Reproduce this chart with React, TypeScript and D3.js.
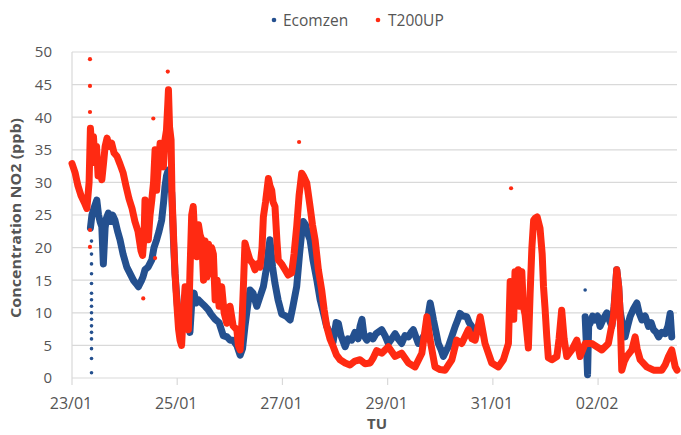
import React from "react";
import * as d3 from "d3";

// Hours since 23/01 00:00 and NO2 values (ppb)
const t200upHours = [0,1.4,2.7,4.1,5.5,6.8,7.8,8.4,9.1,9.8,10.5,11.2,11.9,12.8,13.6,14.4,15.1,16.0,16.9,18.1,19.2,20.5,21.9,23.3,24.6,26.0,27.4,28.7,30.1,31.5,32.2,32.9,33.3,34.0,34.8,35.6,36.4,37.2,37.9,38.6,39.5,40.2,40.9,41.7,42.4,43.1,43.7,44.0,44.5,45.2,45.6,46.3,47.0,47.9,48.6,49.3,50.0,50.6,51.6,52.2,53.1,53.8,54.6,55.3,56.1,56.9,57.7,58.4,59.2,60.0,60.7,61.5,62.3,63.0,63.7,64.5,65.3,66.2,67.1,68.3,69.4,70.6,72.1,73.5,75.2,75.9,76.7,77.6,78.3,78.9,79.9,81.2,82.4,83.5,84.6,85.8,86.7,87.3,88.3,89.6,90.3,91.1,91.7,92.6,93.5,94.1,95.6,97.2,98.6,100.2,101.3,102.5,103.6,104.8,105.6,107.1,108.6,109.7,110.9,112.4,113.9,115.0,116.2,117.7,119.2,120.7,122.3,124.6,126.8,129.1,131.4,133.7,136.0,137.3,139.0,141.3,144.3,147.4,150.4,153.5,156.5,159.6,161.9,163.4,165.6,167.9,170.2,173.3,175.5,177.8,180.8,182.5,183.9,186.2,188.4,191.5,194.5,196.8,199.1,199.9,200.6,201.5,202.1,202.8,203.6,204.4,205.2,205.9,206.7,208.2,209.0,209.8,210.6,211.3,212.2,213.5,214.5,215.1,215.8,216.6,217.3,218.9,221.2,222.2,223.4,224.5,225.7,228.0,230.3,231.8,234.1,237.1,239.4,241.7,244.7,247.0,247.8,248.5,249.4,250.0,250.8,251.9,253.1,255.4,256.9,257.8,259.2,262.2,265.3,269.1,270.6,272.1,273.6,275.2,276.0];
const t200upValues = [32.9,31.5,29.5,28,27,26,30,38.3,35,37,33,35.5,31,32,30.4,33,35.5,36.8,35.5,36,34.5,34,32.8,31.5,29.5,27.5,26,24,22.5,19.5,18.8,22,27.3,24,21.2,25,27.3,30,35,28.8,33,36,33,32.4,36.5,38,42,44.2,38.5,36.5,28.3,22,16,11,7.5,5.8,5,9,14,10,7.4,16,25,26.3,21,18.6,23.5,22,21.2,15,21,15.5,20.5,16,20,19,12,15,11,14,10,8.4,11,8,7.4,5,4.3,9,15,20.7,19.5,18.1,17.6,16.6,17.5,17,20,24.7,27,30.6,29.5,28.8,27,26.3,21,18.1,17.5,16.6,15.8,16.1,19,23.2,28,31.4,31,29.9,26.3,23.5,21.2,16.6,13.5,10.5,7.9,6,4.8,3.5,2.8,2.3,2,2.6,2.8,2.2,2.3,3,4.2,3.8,4.8,3.3,3.8,2.3,1.7,3.8,9.4,5.8,1.7,1.3,1.2,2.8,5.8,5.3,7.4,6,5.8,9.4,5.3,2.3,1.7,2.8,5.3,14.8,12.3,9,16.3,12,16.6,11,16.3,11,9.7,4.6,13,20,24.2,24.5,24.7,23,19,14,10.7,6.3,3.1,2.8,3.3,6,10.4,6,3.3,4.3,5.8,3.3,5.3,5.3,4.8,4.3,5.3,9.4,13,16.6,14,10.4,1.2,2.5,3.3,4.3,6.3,4.5,2.8,1.7,1.2,1.2,2,3.3,4.3,1.7,1.2];

const ecomzenHours = [8.4,9.1,10.0,11.3,12.1,12.8,13.6,14.3,15.1,15.7,16.6,17.6,18.5,19.6,20.8,21.9,23.3,25.0,26.5,28.0,29.2,30.3,31.5,32.4,33.3,34.7,36.4,37.4,38.6,39.7,40.9,41.8,42.4,43.1,43.9,44.7,45.5,46.3,47.0,48.1,49.3,50.4,51.6,52.7,53.8,54.8,55.7,56.6,57.6,59.1,60.7,62.1,63.4,65.3,67.1,69.0,70.7,72.1,73.5,75.2,76.7,77.8,78.9,80.1,81.2,82.6,84.3,85.8,87.3,88.8,89.6,90.3,91.5,92.6,94.0,95.7,97.6,99.5,100.8,102.5,103.8,104.7,105.5,106.5,107.7,108.6,110.0,111.7,113.2,114.7,116.1,117.7,119.1,120.5,121.5,122.7,124.6,125.9,127.6,129.1,130.5,131.4,132.3,133.2,134.5,136.0,137.3,138.7,141.3,142.8,144.3,145.8,147.4,148.8,150.4,151.9,153.5,154.7,155.7,157.0,158.0,159.7,161.1,162.2,163.4,164.0,164.9,166.1,167.1,168.4,169.4,170.7,171.7,173.4,174.8,176.1,177.0,178.4,180.1,181.2,182.4,183.9,200.0,234.1,234.8,235.2,235.7,236.4,237.5,238.6,239.8,240.9,242.3,244.0,245.0,246.3,247.3,248.5,249.4,250.0,251.2,252.3,253.5,254.6,256.0,257.7,258.7,260.0,261.5,263.0,264.2,265.3,266.5,267.6,269.0,270.6,271.9,272.9,273.6];
const ecomzenValues = [23,25,26,27.3,25,24,23.2,17.5,23,24.5,25.3,24,25,24.2,22.5,21.2,19,17,16,15,14.5,14,14.8,15.5,16.6,17,18.1,20,21.2,22.5,24.2,27,29.3,31,31.9,30,28.4,21,16,11,6.8,9,12,9,7,12.5,13,11.5,12,11.5,11,10.5,9.8,9,8.5,6.5,6.3,5.8,5.8,5,3.5,4.5,7.9,11,13.5,13,11,12.5,14,17,19.5,21.2,17,14.5,12,9.8,9.5,8.9,11,14,19,22,24,23.5,22,21.2,18,15,12,10,8,6.8,5.5,8.5,8.4,6.5,4.8,6,5.8,7,6,7.9,9,6.5,5.8,6.5,6,6.8,7.4,6.5,5.3,6,6.8,6,5.3,6.5,6.3,7,7.4,6.2,5.3,6,6.8,9,11.5,10.5,8.9,7,5.3,4.3,3.3,4.2,4.8,6.5,7.9,9,9.9,9.5,9.4,8.5,7.9,6.8,null,9.4,4,0.5,8,8.4,9.5,8.9,9.5,7.9,9,10,9,7.9,11,16.6,14,10.4,8,6.3,8,9.4,10.5,11.5,10,8.9,9.5,7.9,8.5,7.4,7,6.3,7,6.8,8,9.9,6.3];

// Isolated points
const t200upOutlierHours = [8.2,8.2,8.2,8.2,8.2,37.1,43.7,32.5,37.9,103.6,200.3];
const t200upOutlierValues = [48.9,44.8,40.8,22.7,20.1,39.8,47,12.2,18.4,36.2,29.1];
const ecomzenOutlierHours = [234.1,8.9,8.9,8.9,8.9,8.9,8.9,8.9,8.9,8.9,8.9,8.9,8.9,8.9,8.9,8.9,8.9];
const ecomzenOutlierValues = [13.5,21,19,17.5,16,14.5,13,12,11,10,9,8,7,6,4.5,3,0.8];

const tickDays = [0, 2, 4, 6, 8, 10];
const yTicks = [0, 5, 10, 15, 20, 25, 30, 35, 40, 45, 50];
const seriesNames = ["Ecomzen", "T200UP"];

const BLUE = "#24508f";
const RED = "#ff2a12";
const TEXT = "#555555";
const FONT = "'Open Sans', 'Noto Sans', sans-serif";

const start = new Date(2013, 0, 23, 0, 0);
const toDate = (h: number) => new Date(start.getTime() + h * 3600 * 1000);

export default function App() {
  const W = 681, H = 435;
  const x = d3.scaleTime().domain([start, toDate(276)]).range([72, 677]);
  const y = d3.scaleLinear().domain([0, 50]).range([378, 52]);
  const fmt = d3.timeFormat("%d/%m");

  type P = { h: number; v: number | null };
  const red: P[] = t200upHours.map((h, i) => ({ h, v: t200upValues[i] }));
  const blue: P[] = ecomzenHours.map((h, i) => ({ h, v: ecomzenValues[i] }));
  const line = d3
    .line<P>()
    .defined((d) => d.v !== null)
    .x((d) => x(toDate(d.h)))
    .y((d) => y(d.v as number));

  return (
    <svg width={W} height={H} style={{ position: "absolute", left: 0, top: 0, background: "#fff" }} fontFamily={FONT}>
      {yTicks.map((t) => (
        <g key={t}>
          <line x1={72} x2={677} y1={y(t)} y2={y(t)} stroke="#d9d9d9" strokeWidth={1.2} />
          <text x={52} y={y(t)} dy="0.36em" textAnchor="end" fontSize={15} fill={TEXT}>
            {t}
          </text>
        </g>
      ))}
      <line x1={72} x2={72} y1={52} y2={378} stroke="#d9d9d9" strokeWidth={1.2} />
      {tickDays.map((d) => {
        const dt = d3.timeDay.offset(start, d);
        const xx = x(dt);
        return (
          <g key={d}>
            <line x1={xx} x2={xx} y1={378} y2={385} stroke="#d9d9d9" strokeWidth={1.2} />
            <text x={xx - 1} y={409} textAnchor="middle" fontSize={16} fill={TEXT}>
              {fmt(dt)}
            </text>
          </g>
        );
      })}

      <path d={line(blue) || ""} fill="none" stroke={BLUE} strokeWidth={7} strokeLinejoin="round" strokeLinecap="round" />
      {ecomzenOutlierHours.map((h, i) => (
        <circle key={"b" + i} cx={x(toDate(h))} cy={y(ecomzenOutlierValues[i])} r={1.8} fill={BLUE} />
      ))}
      <path d={line(red) || ""} fill="none" stroke={RED} strokeWidth={7} strokeLinejoin="round" strokeLinecap="round" />
      {t200upOutlierHours.map((h, i) => (
        <circle key={"r" + i} cx={x(toDate(h))} cy={y(t200upOutlierValues[i])} r={2.1} fill={RED} />
      ))}

      <text transform="translate(21,218) rotate(-90)" textAnchor="middle" fontSize={14} fontWeight="bold" fill={TEXT} textLength={200} lengthAdjust="spacingAndGlyphs">
        Concentration NO2 (ppb)
      </text>
      <text x={377} y={429} textAnchor="middle" fontSize={15} fontWeight="bold" fill={TEXT}>
        TU
      </text>

      <circle cx={274} cy={20} r={2.3} fill={BLUE} />
      <text x={283} y={20} dy="0.36em" fontSize={15.5} fill={TEXT}>{seriesNames[0]}</text>
      <circle cx={378} cy={20} r={2.3} fill={RED} />
      <text x={388} y={20} dy="0.36em" fontSize={15.5} fill={TEXT}>{seriesNames[1]}</text>
    </svg>
  );
}
